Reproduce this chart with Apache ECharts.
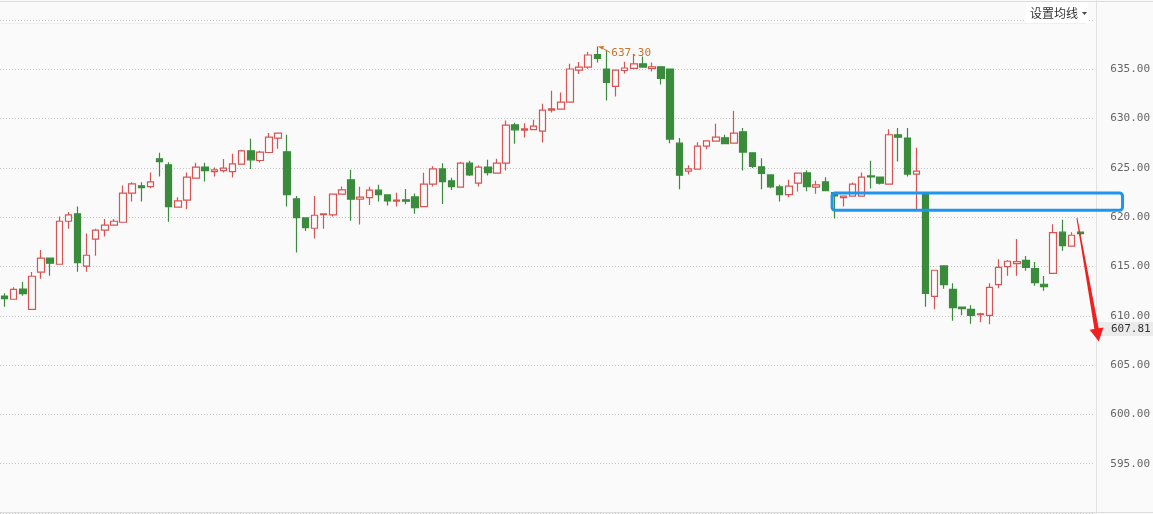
<!DOCTYPE html>
<html><head><meta charset="utf-8">
<script src="https://cdn.jsdelivr.net/npm/echarts@6/dist/echarts.min.js"></script>
<style>html,body{margin:0;padding:0;background:#fafafa}#c{width:1153px;height:514px}</style>
</head><body><div id="c"></div>
<script>
// ---- data ----
const opens = [612.00,611.68,612.72,610.66,614.42,615.84,615.23,619.59,620.34,615.03,617.77,618.68,619.19,619.49,622.44,623.18,623.11,625.92,625.31,621.02,621.73,623.96,625.08,624.63,624.73,624.63,625.38,626.73,625.75,626.56,628.02,626.63,621.86,619.93,618.88,620.26,620.23,622.34,623.79,621.83,621.99,622.74,622.26,621.62,621.76,622.06,621.08,623.35,624.90,623.69,623.05,625.48,623.45,625.08,624.47,625.48,629.37,628.83,628.89,628.73,630.86,630.96,631.68,634.92,635.23,636.48,635.03,633.26,634.88,635.09,635.56,635.09,635.26,635.03,627.51,624.67,624.87,627.21,627.72,628.05,627.51,628.66,626.53,625.11,624.29,623.08,622.29,623.45,624.50,623.05,623.58,622.50,621.99,622.13,622.13,624.19,624.06,623.35,628.36,628.02,624.37,622.50,611.98,615.06,612.69,610.89,610.66,610.11,610.05,613.16,614.98,615.29,615.63,614.78,613.20,614.31,618.48,617.06,618.48];
const closes = [611.74,612.69,612.24,614.01,615.84,615.33,619.59,620.23,615.39,616.14,618.68,619.19,619.59,622.44,623.38,623.00,623.58,625.64,621.08,621.65,624.06,625.08,624.73,624.80,624.97,625.41,626.73,625.82,626.60,628.12,628.53,622.29,619.96,618.94,620.20,620.34,622.34,622.77,621.83,622.03,622.74,622.29,621.65,621.73,621.62,620.97,623.35,624.90,623.61,623.11,625.48,624.29,625.08,624.53,625.48,629.34,628.86,628.96,629.24,630.86,630.99,631.68,635.03,635.23,636.45,636.10,633.67,634.92,635.13,635.56,635.23,635.26,634.07,627.92,624.26,624.90,627.21,627.75,628.12,627.47,628.53,626.60,625.14,624.43,623.08,622.29,623.15,624.47,623.11,623.28,622.70,622.16,622.13,623.35,624.06,624.09,623.45,628.36,628.12,624.37,624.67,612.28,614.62,613.16,610.82,610.72,610.05,610.21,612.89,614.92,615.53,615.49,614.92,613.36,612.95,618.44,617.12,618.17,618.34];
const lows = [610.92,611.68,612.04,610.66,613.77,614.07,615.23,618.84,614.48,614.48,616.10,618.03,619.19,619.49,621.58,621.58,622.94,624.12,619.55,621.02,620.81,623.96,623.61,624.12,624.53,624.02,625.38,624.90,625.54,626.56,626.93,621.08,616.41,618.61,617.83,618.84,620.06,622.34,619.65,619.25,621.25,621.58,621.18,621.08,621.32,620.34,621.08,623.11,621.35,622.77,623.05,624.19,623.11,624.22,624.47,624.73,627.44,628.08,628.89,627.57,630.62,630.96,631.68,634.52,635.06,635.70,631.84,632.24,634.58,635.09,635.23,634.78,633.46,627.51,622.84,624.32,624.87,626.90,627.72,627.41,627.51,624.73,625.00,622.84,622.94,621.58,622.03,622.60,622.64,622.37,622.70,619.86,621.08,622.13,622.13,622.90,623.31,623.35,625.64,624.12,620.74,610.92,610.66,612.75,609.50,610.05,609.20,609.34,609.14,612.79,614.07,614.07,614.58,613.06,612.55,614.31,616.61,617.06,618.17];
const highs = [612.28,612.89,613.43,614.45,616.68,615.84,620.06,620.54,621.08,618.34,618.84,619.83,619.83,623.21,623.55,623.55,624.53,626.53,625.58,622.03,624.53,625.51,625.51,625.04,625.89,626.43,626.83,627.95,626.73,628.53,628.60,628.36,622.16,620.00,622.16,620.40,622.40,623.11,624.80,623.08,623.08,623.28,622.26,622.47,622.87,622.40,624.50,625.18,625.48,623.99,625.61,625.72,625.28,625.82,625.92,629.81,629.57,629.54,629.88,631.50,632.82,632.65,635.56,635.74,636.75,637.30,636.98,634.92,635.77,636.55,636.30,635.70,635.26,635.03,628.02,625.28,627.61,627.75,629.47,628.36,630.79,629.04,626.53,625.99,624.29,623.28,623.79,624.47,624.77,623.69,624.06,622.50,622.13,623.51,624.53,625.72,624.06,628.93,629.04,629.04,627.04,622.50,614.62,615.13,613.30,610.89,611.07,610.31,613.30,615.74,615.66,617.80,616.07,615.46,614.04,619.29,619.73,618.48,618.48];
const categories = opens.map((_, i) => String(i + 1)).concat(['']);
const yMin = 590, yMax = 640, yStep = 5;
const maxPoint = { index: 65, value: 637.30, label: '637.30' };
const lastPrice = 607.81;
const zone = { from: 90.75, to: 122.6, top: 622.45, bottom: 620.7 };
const arrow = { from: [117.6, 619.9], to: [120.0, 607.4] };
const menuText = '设置均线';

const candles = opens.map((o, i) => [o, closes[i], lows[i], highs[i]]);

const chart = echarts.init(document.getElementById('c'), null, { renderer: 'canvas' });
chart.setOption({
  animation: false,
  backgroundColor: '#fafafa',
  grid: { left: -4.59, right: 56, top: 20, bottom: 1 },
  xAxis: {
    type: 'category', data: categories, boundaryGap: true,
    axisLine: { show: false }, axisTick: { show: false }, axisLabel: { show: false }, splitLine: { show: false }
  },
  yAxis: {
    type: 'value', position: 'right', min: yMin, max: yMax, interval: yStep,
    axisLine: { show: false }, axisTick: { show: false },
    axisLabel: {
      formatter: v => v.toFixed(2), color: '#666', fontFamily: 'DejaVu Sans Mono', fontSize: 11,
      margin: 16, showMinLabel: false, showMaxLabel: false
    },
    splitLine: { lineStyle: { color: '#c4c4c4', type: [1, 2], width: 1 } }
  },
  series: [{
    type: 'candlestick', data: candles, barWidth: 7,
    itemStyle: { color: '#fafafa', color0: '#3a8c3c', borderColor: '#d65454', borderColor0: '#3a8c3c', borderWidth: 1.2 }
  }]
});

const px0 = chart.convertToPixel({ xAxisIndex: 0 }, 0);
const px1 = chart.convertToPixel({ xAxisIndex: 0 }, 1);
const bw = px1 - px0;
const xAt = f => px0 + f * bw;
const yAt = v => chart.convertToPixel({ yAxisIndex: 0 }, v);

// arrow geometry
const S = [xAt(arrow.from[0]), yAt(arrow.from[1])];
const T = [xAt(arrow.to[0]), yAt(arrow.to[1])];
const dx = T[0] - S[0], dy = T[1] - S[1], L = Math.hypot(dx, dy);
const u = [dx / L, dy / L], n = [-u[1], u[0]];
const headLen = 13, headHalf = 7;
const B = [T[0] - u[0] * headLen, T[1] - u[1] * headLen];
const P = (p, k, m) => [p[0] + n[0] * k + u[0] * m, p[1] + n[1] * k + u[1] * m];

const mp = [xAt(maxPoint.index), yAt(maxPoint.value)];
const lp = yAt(lastPrice);
const W = chart.getWidth(), H = chart.getHeight();
const axisX = xAt(categories.length) - bw / 2 + 1.5;

chart.setOption({
  graphic: [
    { type: 'line', shape: { x1: 0, y1: 1.5, x2: W, y2: 1.5 }, style: { stroke: '#dcdcdc', lineWidth: 1 }, silent: true },
    { type: 'line', shape: { x1: 0, y1: H - 1.5, x2: W, y2: H - 1.5 }, style: { stroke: '#dcdcdc', lineWidth: 1 }, silent: true },
    { type: 'line', shape: { x1: 0, y1: 23.5, x2: axisX - 10, y2: 23.5 }, style: { stroke: '#efefef', lineWidth: 1 }, silent: true },
    { type: 'line', shape: { x1: Math.round(axisX) + 0.5, y1: 0, x2: Math.round(axisX) + 0.5, y2: H }, style: { stroke: '#e2e2e2', lineWidth: 1 }, silent: true },
    { type: 'rect', shape: { x: 1026, y: 2, width: 62, height: 21 }, style: { fill: '#ffffff' }, silent: true },
    { type: 'text', x: 1030, y: 13, style: { text: menuText, fill: '#333', font: '12px "Noto Sans CJK SC"', verticalAlign: 'middle', align: 'left' }, silent: true },
    { type: 'polygon', shape: { points: [[1082, 12], [1087, 12], [1084.5, 15]] }, style: { fill: '#444' }, silent: true },
    // resistance zone box
    { type: 'rect', shape: { x: xAt(zone.from), y: yAt(zone.top), width: xAt(zone.to) - xAt(zone.from), height: yAt(zone.bottom) - yAt(zone.top), r: 3 },
      style: { fill: null, stroke: '#1e95ee', lineWidth: 3 }, z: 50, silent: true },
    // red arrow
    { type: 'polygon', shape: { points: [P(S, 0.5, 0), P(B, 2.2, 0), P(B, headHalf, 0), T, P(B, -headHalf, 0), P(B, -2.2, 0), P(S, -0.5, 0)] },
      style: { fill: '#ee2020' }, z: 60, silent: true },
    // last price tag
    { type: 'rect', shape: { x: Math.round(axisX) + 1, y: lp - 15.5, width: W - Math.round(axisX) - 1, height: 14 }, style: { fill: '#ebebeb' }, z: 40, silent: true },
    { type: 'text', x: Math.round(axisX) + 15, y: lp - 8.5, style: { text: lastPrice.toFixed(2), fill: '#333', font: '11px "DejaVu Sans Mono"', verticalAlign: 'middle', align: 'left' }, z: 41, silent: true },
    // max marker
    { type: 'polygon', shape: { points: [[mp[0] + 0.5, mp[1]], [mp[0] + 7, mp[1] - 0.5], [mp[0] + 5, mp[1] + 3]] }, style: { fill: '#d07628' }, z: 45, silent: true },
    { type: 'line', shape: { x1: mp[0] + 5, y1: mp[1] + 1.5, x2: mp[0] + 13, y2: mp[1] + 6 }, style: { stroke: '#d07628', lineWidth: 1 }, z: 45, silent: true },
    { type: 'text', x: mp[0] + 14, y: mp[1] + 6.5, style: { text: maxPoint.label, fill: '#c8732a', font: '11px "DejaVu Sans Mono"', verticalAlign: 'middle', align: 'left' }, z: 45, silent: true }
  ]
});
</script>
</body></html>
